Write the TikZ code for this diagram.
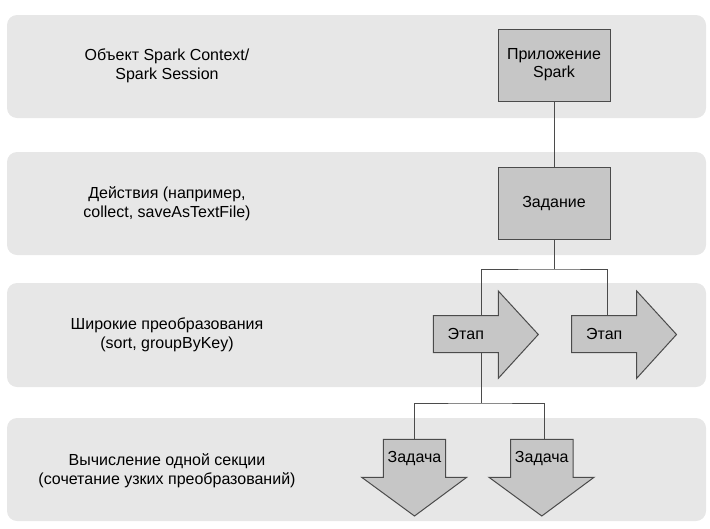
\documentclass[tikz,border=0pt]{standalone}
\usepackage{fontspec}
\setmainfont{Liberation Sans}
\usepackage{xcolor}
\definecolor{bandgray}{RGB}{231,231,231}
\definecolor{boxgray}{RGB}{198,198,198}
\definecolor{linegray}{RGB}{75,75,75}

\tikzset{
  band/.style={fill=bandgray, rounded corners=10pt},
  levelname/.style={align=center, inner sep=0pt, font=\fontsize{16}{19}\selectfont},
  sparkbox/.style={draw=linegray, fill=boxgray, line width=1pt, minimum width=112pt,
    minimum height=72pt, align=center, inner sep=0pt, font=\fontsize{16}{18}\selectfont},
  shapetext/.style={inner sep=0pt, font=\fontsize{16}{18}\selectfont},
  arrowshape/.style={draw=linegray, fill=boxgray, line width=1pt, line join=miter},
  link/.style={draw=linegray, line width=1pt},
}

\begin{document}
\begin{tikzpicture}[x=1pt, y=-1pt]
  \useasboundingbox (0,0) rectangle (710,528);

  % Bands
  \fill[band] (7,15) rectangle (706,118);
  \fill[band] (7,152) rectangle (706,255);
  \fill[band] (7,283) rectangle (706,387);
  \fill[band] (7,418) rectangle (706,521);

  % Level names
  \node[levelname] (ctx) at (167,66) {Объект Spark Context/\\Spark Session};
  \node[levelname] (act) at (167,204) {Действия (например,\\collect, saveAsTextFile)};
  \node[levelname] (wide) at (167,335) {Широкие преобразования\\(sort, groupByKey)};
  \node[levelname] (part) at (167,471) {Вычисление одной секции\\(сочетание узких преобразований)};

  % Application and job
  \node[sparkbox] (app) at (554,65) {Приложение\\Spark};
  \node[sparkbox] (job) at (554,203.5) {Задание};

  % Stages
  \draw[arrowshape] (433.3,315.7) -- (498.3,315.7) -- (498.3,291) -- (538.3,334.5)
    -- (498.3,378.3) -- (498.3,352.7) -- (433.3,352.7) -- cycle;
  \node[shapetext, minimum width=65pt, minimum height=37pt] (stage1) at (465.8,334.2) {Этап};
  \draw[arrowshape] (571.7,315.7) -- (636.7,315.7) -- (636.7,291) -- (676.5,334.5)
    -- (636.7,378.3) -- (636.7,352.7) -- (571.7,352.7) -- cycle;
  \node[shapetext, minimum width=65pt, minimum height=37pt] (stage2) at (604.2,334.2) {Этап};

  % Tasks
  \draw[arrowshape] (383.3,439.3) -- (445.7,439.3) -- (445.7,477.3) -- (466.7,477.3)
    -- (414.5,516) -- (361.7,477.3) -- (383.3,477.3) -- cycle;
  \node[shapetext, minimum width=62pt, minimum height=38pt] (task1) at (414.5,458.3) {Задача};
  \draw[arrowshape] (510.6,439.3) -- (573,439.3) -- (573,477.3) -- (594,477.3)
    -- (541.8,516) -- (489,477.3) -- (510.6,477.3) -- cycle;
  \node[shapetext, minimum width=62pt, minimum height=38pt] (task2) at (541.8,458.3) {Задача};

  % Connectors
  \coordinate (fork1) at (554,269);
  \coordinate (fork2) at (481,403);
  \draw[link] (app) -- (job);
  \draw[link] (job) -- (fork1);
  \draw[link] ([xshift=15.2pt]stage1.north) |- (fork1) -| ([xshift=3pt]stage2.north);
  \draw[link] ([xshift=15.2pt]stage1.south) -- (fork2);
  \draw[link] (task1.north) |- (fork2) -| ([xshift=2.2pt]task2.north);
\end{tikzpicture}
\end{document}
